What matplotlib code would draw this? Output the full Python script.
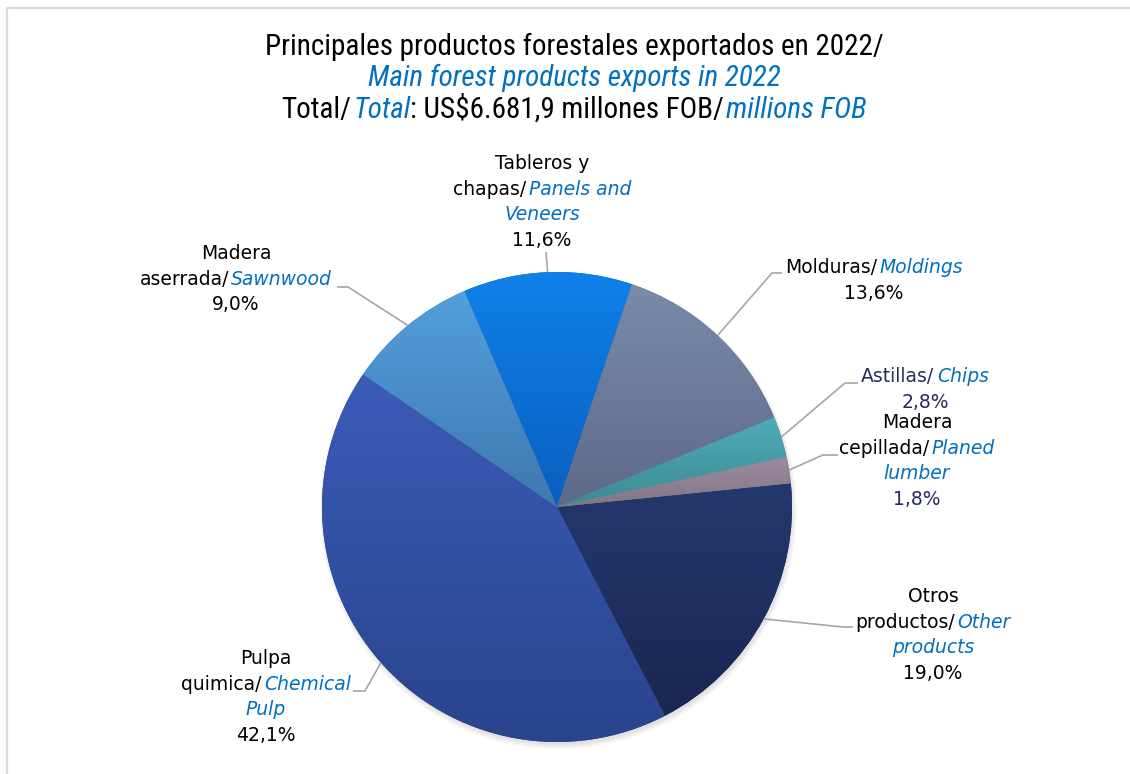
import numpy as np
import matplotlib
matplotlib.use('Agg')
import matplotlib.pyplot as plt
from matplotlib import font_manager
from matplotlib.colors import to_rgb
from matplotlib.patches import Circle

# Participación por producto (% del total exportado)
productos = ['Otros productos', 'Pulpa quimica', 'Madera aserrada', 'Tableros y chapas',
             'Molduras', 'Astillas', 'Madera cepillada']
participacion = [19.0, 42.1, 9.0, 11.6, 13.6, 2.8, 1.8]

# degradado vertical de cada sector (arriba -> abajo)
color_sup = ['#24386f', '#3b5cb8', '#52a0de', '#1080ea', '#7a8bab', '#4eacb8', '#9c8d9e']
color_inf = ['#1a2652', '#29448c', '#3f78ae', '#0a5fbf', '#5d6a86', '#3d8a93', '#847586']

# texto de las etiquetas: (texto, estilo, separación previa) por línea
etiquetas = [
    [[('Otros', 'es', 0)], [('productos/', 'es', 0), ('Other', 'en', 3)], [('products', 'en', 0)]],
    [[('Pulpa', 'es', 0)], [('quimica/', 'es', 0), ('Chemical', 'en', 3)], [('Pulp', 'en', 0)]],
    [[('Madera', 'es', 0)], [('aserrada/', 'es', 0), ('Sawnwood', 'en', 1)]],
    [[('Tableros y', 'es', 0)], [('chapas/', 'es', 0), ('Panels and', 'en', 3)], [('Veneers', 'en', 0)]],
    [[('Molduras/', 'es', 0), ('Moldings', 'en', 3)]],
    [[('Astillas/', 'nv', 0), ('Chips', 'en', 3)]],
    [[('Madera', 'es', 0)], [('cepillada/', 'es', 0), ('Planed', 'en', 3)], [('lumber', 'en', 0)]],
]
estilo_pct = ['es', 'es', 'es', 'es', 'es', 'nv', 'nv']

# posición de etiquetas (centro x, primera línea base) y guías (codo, fin) en píxeles
pos_etiqueta = [(933, 602), (266, 664), (236, 259), (542, 169), (874, 273), (925, 382), (917, 428)]
guia_codo = [(843, 627), (365, 691), (348, 287), (546, 252), (772, 273), (845, 383), (823, 455)]
guia_fin = [(853, 627), (353, 691), (337, 287), (546, 252), (782, 273), (858, 383), (838, 455)]

titulo = [
    [('Principales productos forestales exportados en 2022/', 'es', 0)],
    [('Main forest products exports in 2022', 'en', 0)],
    [('Total/', 'es', 0), ('Total', 'en', 2), (': US$6.681,9 millones FOB/', 'es', 0),
     ('millions FOB', 'en', 2)],
]

AZUL = '#0070c0'
NAVY = '#262b5c'
ESTILOS = {
    'es': dict(color='black', style='normal'),
    'en': dict(color=AZUL, style='italic'),
    'nv': dict(color=NAVY, style='normal'),
}

W, H = 1130, 774
CX, CY, R = 557, 507, 235

nombres = {f.name for f in font_manager.fontManager.ttflist}
fuente_titulo = next((n for n in ['Liberation Sans Narrow', 'DejaVu Sans Condensed', 'Roboto Condensed']
                      if n in nombres), 'DejaVu Sans')
plt.rcParams['font.family'] = ['DejaVu Sans']

fig = plt.figure(figsize=(W / 100, H / 100), dpi=100)

# ejes del gráfico de torta, cuadrados en píxeles
lim = 1.1
lado = 2 * lim * R
ax = fig.add_axes([(CX - lado / 2) / W, (H - CY - lado / 2) / H, lado / W, lado / H])

# sombra suave bajo la torta
for k in range(5):
    ax.add_patch(Circle((0.006, -0.016), 0.995 + 0.005 * k, fc='black', alpha=0.025, lw=0, zorder=0))

wedges, _ = ax.pie(participacion, startangle=5.8, counterclock=False, radius=1,
                   colors=color_inf, wedgeprops=dict(linewidth=0))

g = np.linspace(0, 1, 256)[:, None, None]
for w, cs, ci in zip(wedges, color_sup, color_inf):
    ext = w.get_path().get_extents()
    img = np.array(to_rgb(cs)) * (1 - g) + np.array(to_rgb(ci)) * g
    im = ax.imshow(img, extent=(ext.x0, ext.x1, ext.y0, ext.y1), origin='upper',
                   aspect='auto', interpolation='bilinear', zorder=w.get_zorder() + 0.1)
    im.set_clip_path(w)

ax.set_aspect('equal')
ax.set_xlim(-lim, lim)
ax.set_ylim(-lim, lim)
ax.axis('off')

# capa superior en coordenadas de píxel
ov = fig.add_axes([0, 0, 1, 1], zorder=2)
ov.set_xlim(0, W)
ov.set_ylim(H, 0)
ov.axis('off')
ov.patch.set_alpha(0)

ov.plot([7, 7, W], [H, 8, 8], color='#d9d9d9', lw=1.6, clip_on=False)

renderer = fig.canvas.get_renderer()


def linea(x, y, piezas, size, family='DejaVu Sans'):
    textos = [ov.text(0, y, s, fontsize=size, family=family, va='baseline', ha='left',
                      **ESTILOS[e]) for s, e, _ in piezas]
    anchos = [t.get_window_extent(renderer).width for t in textos]
    seps = [sep for _, _, sep in piezas]
    x0 = x - (sum(anchos) + sum(seps)) / 2
    for t, a, sep in zip(textos, anchos, seps):
        x0 += sep
        t.set_x(x0)
        x0 += a


for i, piezas in enumerate(titulo):
    linea(574, 55 + 31.5 * i, piezas, 21, family=fuente_titulo)

for i, w in enumerate(wedges):
    ang = np.deg2rad((w.theta1 + w.theta2) / 2)
    borde = ov.transData.inverted().transform(ax.transData.transform((np.cos(ang), np.sin(ang))))
    xs = [borde[0], guia_codo[i][0], guia_fin[i][0]]
    ys = [borde[1], guia_codo[i][1], guia_fin[i][1]]
    ov.plot(xs, ys, color='#a6a6a6', lw=1.2, solid_capstyle='butt')

    x, y = pos_etiqueta[i]
    pct = f'{participacion[i]:.1f}%'.replace('.', ',')
    lineas = etiquetas[i] + [[(pct, estilo_pct[i], 0)]]
    for j, piezas in enumerate(lineas):
        linea(x, y + 25.6 * j, piezas, 13.5)

fig.savefig('out.png', dpi=100, facecolor='white')
